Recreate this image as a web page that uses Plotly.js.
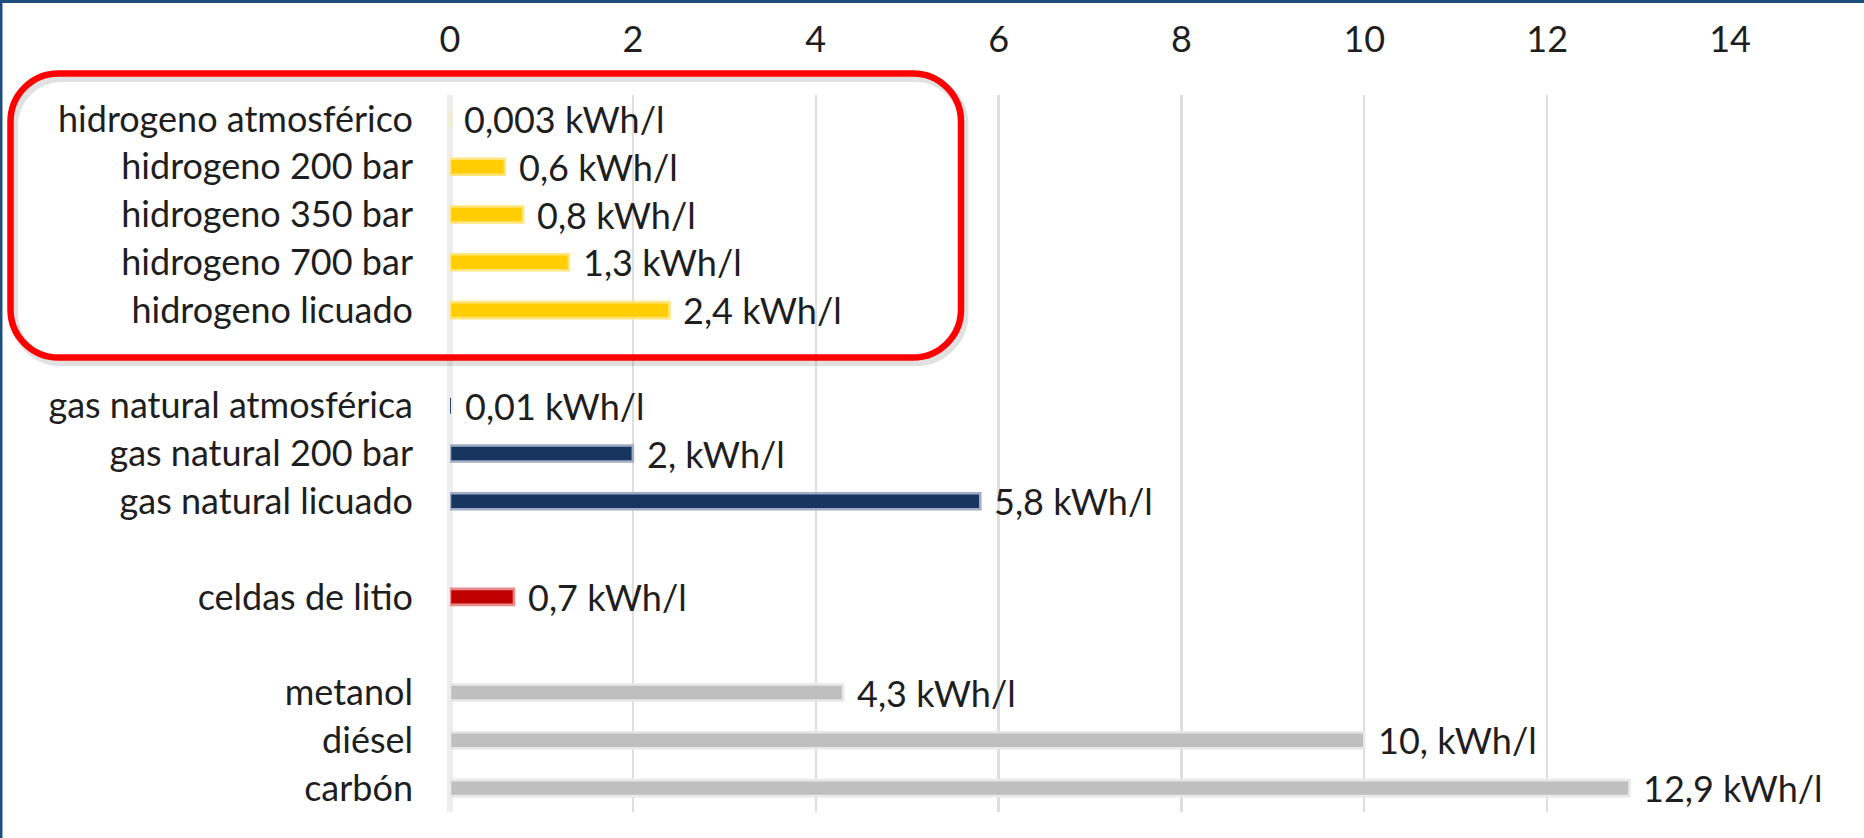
<!DOCTYPE html>
<html>
<head>
<meta charset="utf-8">
<script src="https://cdn.plot.ly/plotly-3.0.1.min.js"></script>
<style>
  html, body { margin: 0; padding: 0; background: #ffffff; }
  #chart { width: 1864px; height: 838px; }
</style>
</head>
<body>
<div id="chart"></div>
<script>
// Volumetric energy density per storage option (kWh per litre)
const hydrogenLabels = ['hidrogeno atmosférico', 'hidrogeno 200 bar', 'hidrogeno 350 bar', 'hidrogeno 700 bar', 'hidrogeno licuado'];
const hydrogenValues = [0.003, 0.6, 0.8, 1.3, 2.4];
const hydrogenText = ['0,003 kWh/l', '0,6 kWh/l', '0,8 kWh/l', '1,3 kWh/l', '2,4 kWh/l'];

const gasLabels = ['gas natural atmosférica', 'gas natural 200 bar', 'gas natural licuado'];
const gasValues = [0.01, 2.0, 5.8];
const gasText = ['0,01 kWh/l', '2, kWh/l', '5,8 kWh/l'];

const lithiumLabels = ['celdas de litio'];
const lithiumValues = [0.7];
const lithiumText = ['0,7 kWh/l'];

const fuelLabels = ['metanol', 'diésel', 'carbón'];
const fuelValues = [4.3, 10.0, 12.9];
const fuelText = ['4,3 kWh/l', '10, kWh/l', '12,9 kWh/l'];

// empty rows separating the groups (distinct invisible names)
const gapA = '\u200b', gapB = '\u200b\u200b', gapC = '\u200b\u200b\u200b';

const categoryOrder = [
  ...hydrogenLabels, gapA,
  ...gasLabels, gapB,
  ...lithiumLabels, gapC,
  ...fuelLabels
];
const labelledRows = [...hydrogenLabels, ...gasLabels, ...lithiumLabels, ...fuelLabels];

const FONT = 'Lato, "Open Sans", sans-serif';
const TEXT_COLOR = '#1e1e1e';

const groups = [
  { labels: hydrogenLabels, values: hydrogenValues, text: hydrogenText, color: '#FFCD00', edge: '#FFE57A' },
  { labels: gasLabels, values: gasValues, text: gasText, color: '#17355F', edge: '#9FAEC4' },
  { labels: lithiumLabels, values: lithiumValues, text: lithiumText, color: '#C00000', edge: '#E58C8C' },
  { labels: fuelLabels, values: fuelValues, text: fuelText, color: '#BFBFBF', edge: '#E8E8E8' }
];

const traces = groups.map(g => ({
  type: 'bar',
  orientation: 'h',
  x: g.values,
  y: g.labels,
  width: 0.335,
  marker: {
    color: g.color,
    // no soft edge on bars too short to show one
    line: { color: g.edge, width: g.values.map(v => (v < 0.05 ? 0 : 2.6)) }
  },
  hoverinfo: 'skip'
}));

// value labels placed just past the end of each bar
const annotations = [];
groups.forEach(g => {
  g.values.forEach((v, i) => {
    annotations.push({
      x: v,
      y: categoryOrder.indexOf(g.labels[i]),
      xref: 'x', yref: 'y',
      text: g.text[i],
      xanchor: 'left', yanchor: 'middle',
      xshift: 12,
      showarrow: false,
      font: { family: FONT, size: 36, color: TEXT_COLOR }
    });
  });
});

// page geometry
const W = 1864, H = 838;
const M = { l: 450, r: 134, t: 95, b: 26 };
const PW = W - M.l - M.r, PH = H - M.t - M.b;
const fx = px => ((px - M.l) / PW).toFixed(5);
const fy = py => ((H - M.b - py) / PH).toFixed(5);

function roundedRect(L, T, R, B, r) {
  const k = 0.4477 * r; // distance of the control points from the corner
  return [
    'M', fx(L + r), fy(T),
    'L', fx(R - r), fy(T),
    'C', fx(R - k), fy(T), fx(R), fy(T + k), fx(R), fy(T + r),
    'L', fx(R), fy(B - r),
    'C', fx(R), fy(B - k), fx(R - k), fy(B), fx(R - r), fy(B),
    'L', fx(L + r), fy(B),
    'C', fx(L + k), fy(B), fx(L), fy(B - k), fx(L), fy(B - r),
    'L', fx(L), fy(T + r),
    'C', fx(L), fy(T + k), fx(L + k), fy(T), fx(L + r), fy(T),
    'Z'
  ].join(' ');
}

const box = { L: 10.5, T: 73.5, R: 961, B: 357.5, r: 48 };

const shapes = [
  // soft drop shadow of the highlight frame
  {
    type: 'path', xref: 'paper', yref: 'paper', layer: 'above',
    path: roundedRect(box.L + 3, box.T + 4, box.R + 3, box.B + 4, box.r),
    line: { color: 'rgba(70,70,70,0.16)', width: 9 }
  },
  // highlight frame around the hydrogen group
  {
    type: 'path', xref: 'paper', yref: 'paper', layer: 'above',
    path: roundedRect(box.L, box.T, box.R, box.B, box.r),
    line: { color: '#FF0000', width: 6.5 }
  },
  // frame edges of the slide
  {
    type: 'rect', xref: 'paper', yref: 'paper', layer: 'above',
    x0: fx(0), x1: fx(W), y0: fy(0), y1: fy(3),
    fillcolor: '#1F4E7E', line: { width: 0 }
  },
  {
    type: 'rect', xref: 'paper', yref: 'paper', layer: 'above',
    x0: fx(0), x1: fx(2.5), y0: fy(0), y1: fy(H),
    fillcolor: '#1F4E7E', line: { width: 0 }
  }
];

const layout = {
  width: W, height: H,
  margin: M,
  paper_bgcolor: '#ffffff',
  plot_bgcolor: '#ffffff',
  showlegend: false,
  barmode: 'overlay',
  font: { family: FONT, size: 36, color: TEXT_COLOR },
  xaxis: {
    side: 'top',
    range: [0, 14],
    tick0: 0, dtick: 2,
    showgrid: true, gridcolor: '#DEDEDE', gridwidth: 2.4,
    zeroline: true, zerolinecolor: '#EDEDED', zerolinewidth: 6,
    showline: false, ticks: '',
    ticklabelstandoff: 35,
    tickfont: { family: FONT, size: 36, color: TEXT_COLOR },
    fixedrange: true
  },
  yaxis: {
    type: 'category',
    categoryorder: 'array',
    categoryarray: categoryOrder,
    range: [categoryOrder.length - 0.5, -0.5],
    tickmode: 'array',
    tickvals: labelledRows,
    ticktext: labelledRows,
    showgrid: false, zeroline: false, showline: false, ticks: '',
    ticklabelstandoff: 36,
    tickfont: { family: FONT, size: 36, color: TEXT_COLOR },
    fixedrange: true
  },
  annotations: annotations,
  shapes: shapes
};

Plotly.newPlot('chart', traces, layout, { displayModeBar: false, staticPlot: true });
</script>
</body>
</html>
